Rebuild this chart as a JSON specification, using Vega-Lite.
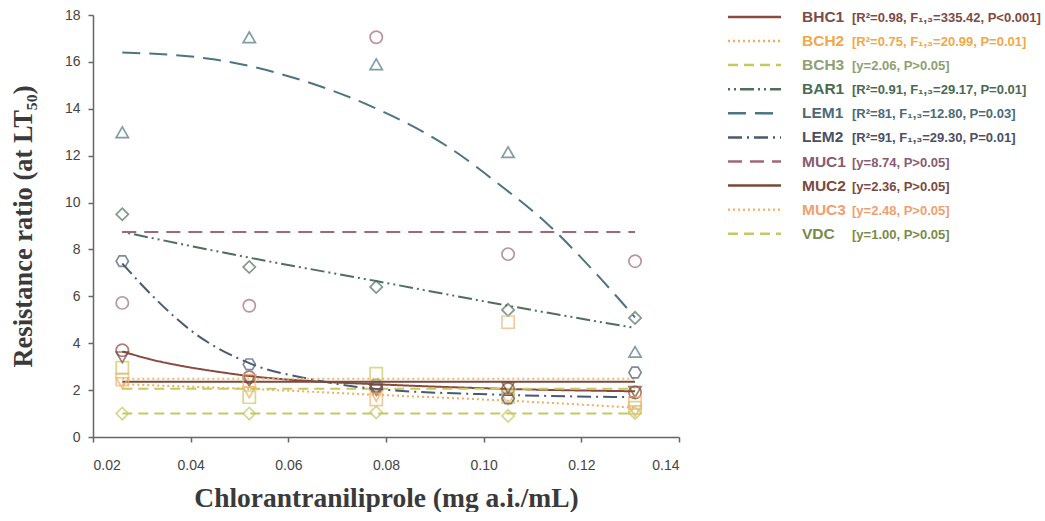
{
  "$schema": "https://vega.github.io/schema/vega-lite/v6.json",
  "padding": {"left": 10, "top": 8, "right": 0, "bottom": 0},
  "background": "white",
  "config": {"view": {"stroke": null}, "font": "Liberation Sans"},
  "spacing": 46,
  "resolve": {"scale": {"x": "independent", "y": "independent"}},
  "datasets": {
    "pts": [
      {"series": "BHC1", "conc": 0.026, "rr": 3.7}, {"series": "BHC1", "conc": 0.052, "rr": 2.55}, {"series": "BHC1", "conc": 0.078, "rr": 2.2}, {"series": "BHC1", "conc": 0.105, "rr": 2.05}, {"series": "BHC1", "conc": 0.131, "rr": 1.9},
      {"series": "BCH2", "conc": 0.026, "rr": 2.3}, {"series": "BCH2", "conc": 0.052, "rr": 1.9}, {"series": "BCH2", "conc": 0.078, "rr": 1.75}, {"series": "BCH2", "conc": 0.105, "rr": 1.6}, {"series": "BCH2", "conc": 0.131, "rr": 1.1},
      {"series": "BCH3", "conc": 0.026, "rr": 2.95}, {"series": "BCH3", "conc": 0.052, "rr": 1.7}, {"series": "BCH3", "conc": 0.078, "rr": 2.7}, {"series": "BCH3", "conc": 0.105, "rr": 1.7}, {"series": "BCH3", "conc": 0.131, "rr": 1.25},
      {"series": "BAR1", "conc": 0.026, "rr": 9.5}, {"series": "BAR1", "conc": 0.052, "rr": 7.25}, {"series": "BAR1", "conc": 0.078, "rr": 6.4}, {"series": "BAR1", "conc": 0.105, "rr": 5.42}, {"series": "BAR1", "conc": 0.131, "rr": 5.08},
      {"series": "LEM1", "conc": 0.026, "rr": 13.0}, {"series": "LEM1", "conc": 0.052, "rr": 17.05}, {"series": "LEM1", "conc": 0.078, "rr": 15.9}, {"series": "LEM1", "conc": 0.105, "rr": 12.15}, {"series": "LEM1", "conc": 0.131, "rr": 3.63},
      {"series": "LEM2", "conc": 0.026, "rr": 7.5}, {"series": "LEM2", "conc": 0.052, "rr": 3.1}, {"series": "LEM2", "conc": 0.078, "rr": 2.1}, {"series": "LEM2", "conc": 0.105, "rr": 1.65}, {"series": "LEM2", "conc": 0.131, "rr": 2.75},
      {"series": "MUC1", "conc": 0.026, "rr": 5.72}, {"series": "MUC1", "conc": 0.052, "rr": 5.6}, {"series": "MUC1", "conc": 0.078, "rr": 17.05}, {"series": "MUC1", "conc": 0.105, "rr": 7.8}, {"series": "MUC1", "conc": 0.131, "rr": 7.5},
      {"series": "MUC2", "conc": 0.026, "rr": 3.4}, {"series": "MUC2", "conc": 0.052, "rr": 2.4}, {"series": "MUC2", "conc": 0.078, "rr": 2.0}, {"series": "MUC2", "conc": 0.105, "rr": 2.1}, {"series": "MUC2", "conc": 0.131, "rr": 1.92},
      {"series": "MUC3", "conc": 0.026, "rr": 2.45}, {"series": "MUC3", "conc": 0.052, "rr": 2.4}, {"series": "MUC3", "conc": 0.078, "rr": 1.6}, {"series": "MUC3", "conc": 0.105, "rr": 4.9}, {"series": "MUC3", "conc": 0.131, "rr": 1.45},
      {"series": "VDC", "conc": 0.026, "rr": 1.0}, {"series": "VDC", "conc": 0.052, "rr": 1.0}, {"series": "VDC", "conc": 0.078, "rr": 1.05}, {"series": "VDC", "conc": 0.105, "rr": 0.9}, {"series": "VDC", "conc": 0.131, "rr": 1.02}
    ],
    "fits": [
      {"series": "BHC1", "conc": 0.026, "rr": 3.65}, {"series": "BHC1", "conc": 0.032, "rr": 3.3}, {"series": "BHC1", "conc": 0.039, "rr": 3.0}, {"series": "BHC1", "conc": 0.045, "rr": 2.8}, {"series": "BHC1", "conc": 0.052, "rr": 2.6}, {"series": "BHC1", "conc": 0.065, "rr": 2.38}, {"series": "BHC1", "conc": 0.078, "rr": 2.25}, {"series": "BHC1", "conc": 0.105, "rr": 2.05}, {"series": "BHC1", "conc": 0.131, "rr": 1.95},
      {"series": "BCH2", "conc": 0.026, "rr": 2.25}, {"series": "BCH2", "conc": 0.052, "rr": 2.05}, {"series": "BCH2", "conc": 0.078, "rr": 1.8}, {"series": "BCH2", "conc": 0.105, "rr": 1.55}, {"series": "BCH2", "conc": 0.131, "rr": 1.25},
      {"series": "BCH3", "conc": 0.026, "rr": 2.06}, {"series": "BCH3", "conc": 0.131, "rr": 2.06},
      {"series": "BAR1", "conc": 0.026, "rr": 8.75}, {"series": "BAR1", "conc": 0.052, "rr": 7.65}, {"series": "BAR1", "conc": 0.078, "rr": 6.65}, {"series": "BAR1", "conc": 0.105, "rr": 5.6}, {"series": "BAR1", "conc": 0.131, "rr": 4.65},
      {"series": "LEM1", "conc": 0.026, "rr": 16.4}, {"series": "LEM1", "conc": 0.045, "rr": 16.1}, {"series": "LEM1", "conc": 0.063, "rr": 15.2}, {"series": "LEM1", "conc": 0.077, "rr": 14.1}, {"series": "LEM1", "conc": 0.094, "rr": 12.2}, {"series": "LEM1", "conc": 0.103, "rr": 10.8}, {"series": "LEM1", "conc": 0.113, "rr": 9.1}, {"series": "LEM1", "conc": 0.122, "rr": 7.2}, {"series": "LEM1", "conc": 0.131, "rr": 5.1},
      {"series": "LEM2", "conc": 0.026, "rr": 7.4}, {"series": "LEM2", "conc": 0.033, "rr": 5.85}, {"series": "LEM2", "conc": 0.04, "rr": 4.55}, {"series": "LEM2", "conc": 0.052, "rr": 3.15}, {"series": "LEM2", "conc": 0.065, "rr": 2.45}, {"series": "LEM2", "conc": 0.078, "rr": 2.05}, {"series": "LEM2", "conc": 0.104, "rr": 1.8}, {"series": "LEM2", "conc": 0.131, "rr": 1.7},
      {"series": "MUC1", "conc": 0.026, "rr": 8.74}, {"series": "MUC1", "conc": 0.131, "rr": 8.74},
      {"series": "MUC2", "conc": 0.026, "rr": 2.36}, {"series": "MUC2", "conc": 0.131, "rr": 2.36},
      {"series": "MUC3", "conc": 0.026, "rr": 2.48}, {"series": "MUC3", "conc": 0.131, "rr": 2.48},
      {"series": "VDC", "conc": 0.026, "rr": 1.0}, {"series": "VDC", "conc": 0.131, "rr": 1.0}
    ],
    "leg": [
      {"series": "BHC1", "row": 1, "name": "BHC1", "stats": "[R²=0.98, F₁,₃=335.42, P<0.001]"},
      {"series": "BCH2", "row": 2, "name": "BCH2", "stats": "[R²=0.75, F₁,₃=20.99, P=0.01]"},
      {"series": "BCH3", "row": 3, "name": "BCH3", "stats": "[y=2.06, P>0.05]"},
      {"series": "BAR1", "row": 4, "name": "BAR1", "stats": "[R²=0.91, F₁,₃=29.17, P=0.01]"},
      {"series": "LEM1", "row": 5, "name": "LEM1", "stats": "[R²=81, F₁,₃=12.80, P=0.03]"},
      {"series": "LEM2", "row": 6, "name": "LEM2", "stats": "[R²=91, F₁,₃=29.30, P=0.01]"},
      {"series": "MUC1", "row": 7, "name": "MUC1", "stats": "[y=8.74, P>0.05]"},
      {"series": "MUC2", "row": 8, "name": "MUC2", "stats": "[y=2.36, P>0.05]"},
      {"series": "MUC3", "row": 9, "name": "MUC3", "stats": "[y=2.48, P>0.05]"},
      {"series": "VDC", "row": 10, "name": "VDC", "stats": "[y=1.00, P>0.05]"}
    ]
  },
  "hconcat": [
    {
      "width": 586,
      "height": 422,
      "encoding": {
        "x": {"field": "conc", "type": "quantitative",
          "scale": {"domain": [0.02, 0.14], "nice": false, "zero": false},
          "axis": {"values": [0.02, 0.04, 0.06, 0.08, 0.1, 0.12, 0.14], "format": ".2f", "grid": false,
            "title": "Chlorantraniliprole (mg a.i./mL)", "titleFont": "Liberation Serif", "titleFontSize": 27.5, "titleFontWeight": "bold", "titleColor": "#3a3a3a", "titlePadding": 12,
            "labelFontSize": 14, "labelColor": "#444", "labelPadding": 16, "tickSize": 5, "tickColor": "#666", "domainColor": "#666", "domainWidth": 1.5, "tickWidth": 1.5}},
        "y": {"field": "rr", "type": "quantitative",
          "scale": {"domain": [0, 18], "nice": false},
          "axis": {"values": [0, 2, 4, 6, 8, 10, 12, 14, 16, 18], "grid": false,
            "title": "Resistance ratio (at LT₅₀)", "titleFont": "Liberation Serif", "titleFontSize": 26.5, "titleFontWeight": "bold", "titleColor": "#3a3a3a", "titlePadding": 27,
            "labelFontSize": 14, "labelColor": "#444", "labelPadding": 8, "tickSize": 5, "tickColor": "#666", "domainColor": "#666", "domainWidth": 1.5, "tickWidth": 1.5}}
      },
      "layer": [
        {
          "data": {"name": "fits"},
          "mark": {"type": "line", "interpolate": "monotone", "strokeWidth": 2},
          "encoding": {
            "stroke": {"field": "series", "type": "nominal", "legend": null,
              "scale": {"domain": ["BHC1", "BCH2", "BCH3", "BAR1", "LEM1", "LEM2", "MUC1", "MUC2", "MUC3", "VDC"],
                "range": ["#8a4a40", "#f0ad5c", "#c8c860", "#4f6e5e", "#4d7484", "#4a5a70", "#a06878", "#7a4a3a", "#f3b578", "#c4c864"]}},
            "strokeDash": {"field": "series", "type": "nominal", "legend": null,
              "scale": {"domain": ["BHC1", "BCH2", "BCH3", "BAR1", "LEM1", "LEM2", "MUC1", "MUC2", "MUC3", "VDC"],
                "range": [[1, 0], [2, 3], [10, 6], [2, 4, 2, 4, 14, 4], [18, 9], [14, 5, 2, 5], [14, 8], [1, 0], [2, 3], [10, 6]]}}
          }
        },
        {
          "data": {"name": "pts"},
          "mark": {"type": "point", "filled": false, "size": 150, "strokeWidth": 1.7},
          "encoding": {
            "stroke": {"field": "series", "type": "nominal", "legend": null,
              "scale": {"domain": ["BHC1", "BCH2", "BCH3", "BAR1", "LEM1", "LEM2", "MUC1", "MUC2", "MUC3", "VDC"],
                "range": ["#8a4a40", "#f0ad5c", "#c8c860", "#4f6e5e", "#4d7484", "#4a5a70", "#a06878", "#7a4a3a", "#f3b578", "#c4c864"]}},
            "shape": {"field": "series", "type": "nominal", "legend": null,
              "scale": {"domain": ["BHC1", "BCH2", "BCH3", "BAR1", "LEM1", "LEM2", "MUC1", "MUC2", "MUC3", "VDC"],
                "range": ["circle", "triangle-down", "square", "diamond", "triangle-up", "M-1,0L-0.5,-0.866L0.5,-0.866L1,0L0.5,0.866L-0.5,0.866Z", "circle", "triangle-down", "square", "diamond"]}}
          }
        }
      ]
    },
    {
      "width": 315,
      "height": 240,
      "data": {"name": "leg"},
      "encoding": {
        "y": {"field": "row", "type": "quantitative", "axis": null,
          "scale": {"domain": [0.92, 10.88], "nice": false, "zero": false, "reverse": true}}
      },
      "layer": [
        {
          "mark": {"type": "rule", "strokeWidth": 2.5},
          "encoding": {
            "x": {"datum": 2, "type": "quantitative", "scale": {"domain": [0, 315], "nice": false, "zero": false}, "axis": null},
            "x2": {"datum": 55},
            "stroke": {"field": "series", "type": "nominal", "legend": null,
              "scale": {"domain": ["BHC1", "BCH2", "BCH3", "BAR1", "LEM1", "LEM2", "MUC1", "MUC2", "MUC3", "VDC"],
                "range": ["#8a4a40", "#f0ad5c", "#c8c860", "#4f6e5e", "#4d7484", "#4a5a70", "#a06878", "#7a4a3a", "#f3b578", "#c4c864"]}},
            "strokeDash": {"field": "series", "type": "nominal", "legend": null,
              "scale": {"domain": ["BHC1", "BCH2", "BCH3", "BAR1", "LEM1", "LEM2", "MUC1", "MUC2", "MUC3", "VDC"],
                "range": [[1, 0], [2, 3], [10, 6], [2, 4, 2, 4, 14, 4], [18, 9], [14, 5, 2, 5], [14, 8], [1, 0], [2, 3], [10, 6]]}}
          }
        },
        {
          "mark": {"type": "text", "align": "left", "baseline": "middle", "fontSize": 15.5, "fontWeight": "bold", "font": "Liberation Sans"},
          "encoding": {
            "x": {"datum": 76, "type": "quantitative"},
            "text": {"field": "name"},
            "fill": {"field": "series", "type": "nominal", "legend": null,
              "scale": {"domain": ["BHC1", "BCH2", "BCH3", "BAR1", "LEM1", "LEM2", "MUC1", "MUC2", "MUC3", "VDC"],
                "range": ["#7e4a46", "#f0a848", "#8fa070", "#4a6a50", "#4a6a7c", "#4a5064", "#8a5a70", "#7a4a40", "#f0a070", "#7a8a4a"]}}
          }
        },
        {
          "mark": {"type": "text", "align": "left", "baseline": "middle", "fontSize": 13, "fontWeight": "bold", "font": "Liberation Sans", "dy": 1},
          "encoding": {
            "x": {"datum": 126, "type": "quantitative"},
            "text": {"field": "stats"},
            "fill": {"field": "series", "type": "nominal", "legend": null,
              "scale": {"domain": ["BHC1", "BCH2", "BCH3", "BAR1", "LEM1", "LEM2", "MUC1", "MUC2", "MUC3", "VDC"],
                "range": ["#8a4030", "#f0a848", "#8fa070", "#4a6a50", "#4a6a7c", "#4a5064", "#8a5a70", "#7a4a40", "#f0a070", "#7a8a4a"]}}
          }
        }
      ]
    }
  ]
}
